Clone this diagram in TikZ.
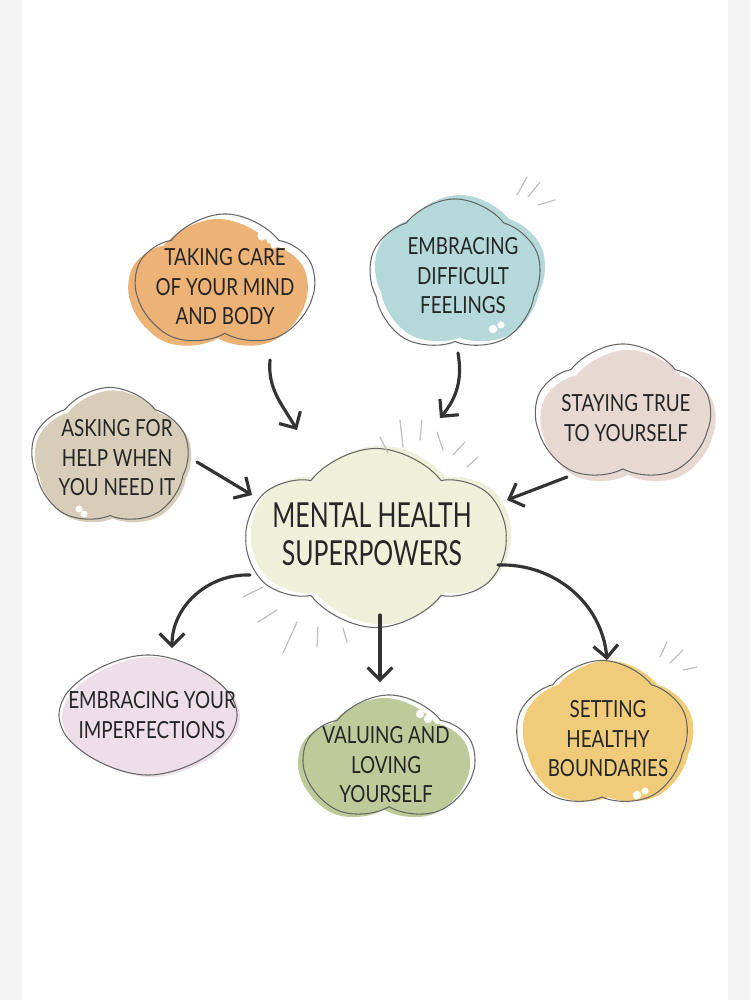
\documentclass[tikz,border=0pt]{standalone}
\usepackage{fontspec}
\newfontfamily\handfont[FakeStretch=0.8]{Lato}
\newfontfamily\hubfont[FakeStretch=0.72]{Lato}
\usetikzlibrary{arrows.meta,shapes.symbols}

\definecolor{careC}{HTML}{ECB276}
\definecolor{feelC}{HTML}{B5D9DA}
\definecolor{trueC}{HTML}{E7D8D2}
\definecolor{askC}{HTML}{D7CDB8}
\definecolor{hubC}{HTML}{EEF0DA}
\definecolor{imperfC}{HTML}{EEDEE9}
\definecolor{loveC}{HTML}{BCCB99}
\definecolor{boundC}{HTML}{F0CC7A}
\definecolor{stripC}{HTML}{F4F4F4}

\begin{document}
\begin{tikzpicture}
[
                    x =  0.01cm,
                    y = -0.01cm,
                   >= {Straight Barb[length=3.5pt,width=7pt]},
       cloudbox/.style = { cloud, cloud puffs=5, cloud puff arc=105, cloud ignores aspect, fill=#1, inner sep=0pt },
            rim/.style = { postaction={draw=black!60, line width=0.3pt, transform canvas={shift={#1}}} },
          ctext/.style = { align=center, text=black!85, font=\handfont\fontsize{6.7}{8.4}\selectfont },
        hubtext/.style = { align=center, text=black!85, font=\hubfont\fontsize{9.8}{10.8}\selectfont },
            arr/.style = { ->, draw=black!80, line width=0.9pt, line cap=round },
            ray/.style = { draw=black!25, line width=0.35pt, line cap=round },
        sparkle/.style = { fill=white }
]

	\useasboundingbox (0,0) rectangle (750,1000);
	\fill[white]  (0,0)   rectangle (750,1000);
	\fill[stripC] (0,0)   rectangle (22,1000);
	\fill[stripC] (728,0) rectangle (750,1000);

	\node   (care) at (218,287) [cloudbox=careC,   rim={(7,-5)},  minimum width=1.78cm, minimum height=1.36cm] {};
	\node   (feel) at (460,272) [cloudbox=feelC,   rim={(-5,4)},  minimum width=1.72cm, minimum height=1.54cm, shape border rotate=20] {};
	\node   (true) at (628,420) [cloudbox=trueC,   rim={(-5,-6)}, minimum width=1.75cm, minimum height=1.40cm, shape border rotate=10] {};
	\node    (ask) at (113,460) [cloudbox=askC,    rim={(-3,-3)}, minimum width=1.58cm, minimum height=1.39cm, shape border rotate=30] {};
	\node    (hub) at (381,535) [cloudbox=hubC,    rim={(-5,3)},  minimum width=2.58cm, minimum height=1.79cm, cloud puffs=6] {};
	\node (imperf) at (151,717) [cloudbox=imperfC, rim={(-3,-2)}, minimum width=1.78cm, minimum height=1.20cm, cloud puffs=4, cloud puff arc=95] {};
	\node   (love) at (384,762) [cloudbox=loveC,   rim={(5,-3)},  minimum width=1.70cm, minimum height=1.28cm, shape border rotate=15] {};
	\node  (bound) at (608,735) [cloudbox=boundC,  rim={(-6,0)},  minimum width=1.72cm, minimum height=1.49cm, shape border rotate=35] {};

	\node   (careT) at (225,287) [ctext]   {TAKING CARE\\OF YOUR MIND\\AND BODY};
	\node   (feelT) at (463,276) [ctext]   {EMBRACING\\DIFFICULT\\FEELINGS};
	\node   (trueT) at (626,418) [ctext]   {STAYING TRUE\\TO YOURSELF};
	\node    (askT) at (117,458) [ctext]   {ASKING FOR\\HELP WHEN\\YOU NEED IT};
	\node    (hubT) at (372,534) [hubtext] {MENTAL HEALTH\\SUPERPOWERS};
	\node (imperfT) at (152,715) [ctext]   {EMBRACING YOUR\\IMPERFECTIONS};
	\node   (loveT) at (386,765) [ctext]   {VALUING AND\\LOVING\\YOURSELF};
	\node  (boundT) at (608,739) [ctext]   {SETTING\\HEALTHY\\BOUNDARIES};

	\draw[arr] ([shift={(52,73)}]care.center)   to[out=-95,in=120] ([shift={(-84,-105)}]hub.center);
	\draw[arr] ([shift={(-2,81)}]feel.center)   to[out=-80,in=50]  ([shift={(59,-117)}]hub.center);
	\draw[arr] ([shift={(-61,57)}]true.center)  --                 ([shift={(126,-35)}]hub.center);
	\draw[arr] ([shift={(84,2)}]ask.center)     --                 ([shift={(-129,-40)}]hub.center);
	\draw[arr] ([shift={(-131,40)}]hub.center)  to[out=178,in=90]  ([shift={(21,-69)}]imperf.center);
	\draw[arr] ([shift={(-1,80)}]hub.center)    --                 ([shift={(-4,-80)}]love.center);
	\draw[arr] ([shift={(117,30)}]hub.center)   to[out=2,in=95]    ([shift={(-1,-75)}]bound.center);

	\draw[ray] (380,437) -- (388,453);
	\draw[ray] (400,420) -- (403,447);
	\draw[ray] (422,420) -- (420,440);
	\draw[ray] (437,432) -- (443,450);
	\draw[ray] (465,442) -- (453,455);
	\draw[ray] (478,457) -- (467,467);

	\draw[ray] (243,597) -- (263,587);
	\draw[ray] (258,622) -- (277,610);
	\draw[ray] (283,653) -- (297,622);
	\draw[ray] (317,647) -- (318,627);
	\draw[ray] (347,642) -- (343,628);

	\draw[ray] (517,195) -- (527,177);
	\draw[ray] (528,197) -- (540,182);
	\draw[ray] (538,205) -- (555,200);

	\draw[ray] (660,657) -- (667,642);
	\draw[ray] (670,663) -- (683,650);
	\draw[ray] (683,670) -- (697,667);

	\fill[sparkle] (262,236) circle (1.3pt);
	\fill[sparkle] (270,240) circle (1.0pt);
	\fill[sparkle] (274,245) circle (1.0pt);
	\fill[sparkle] (493,329) circle (1.2pt);
	\fill[sparkle] (501,325) circle (1.0pt);
	\fill[sparkle] (79,509)  circle (1.0pt);
	\fill[sparkle] (84,514)  circle (1.0pt);
	\fill[sparkle] (298,470) circle (1.2pt);
	\fill[sparkle] (306,466) circle (1.0pt);
	\fill[sparkle] (420,714) circle (1.2pt);
	\fill[sparkle] (428,719) circle (1.2pt);
	\fill[sparkle] (637,795) circle (1.2pt);
	\fill[sparkle] (645,791) circle (1.0pt);

\end{tikzpicture}
\end{document}
